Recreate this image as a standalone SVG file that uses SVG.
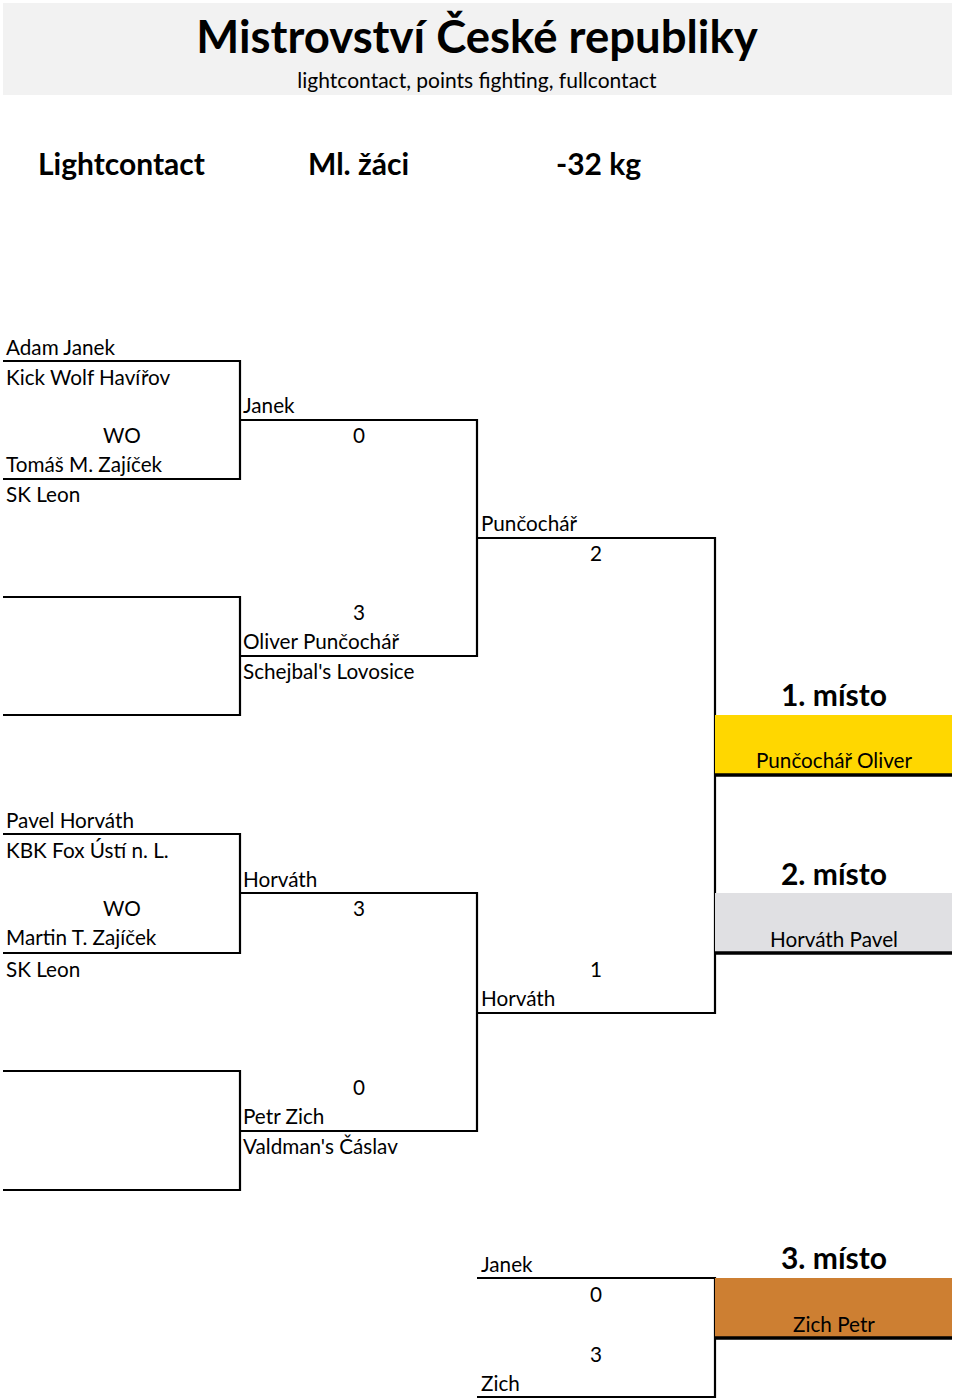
<svg xmlns="http://www.w3.org/2000/svg" width="960" height="1400" viewBox="0 0 960 1400">
<style>
text{font-family:Lato,"Liberation Sans",sans-serif;font-size:20.7px;fill:#000}
.c{text-anchor:middle}
.b{font-weight:bold}
.h{font-size:30px;font-weight:bold}
.p{font-size:30px;font-weight:bold;text-anchor:middle}
.ln{stroke:#000;stroke-width:2.2;fill:none}
.tk{stroke:#000;stroke-width:3.5;fill:none}
</style>
<rect x="3" y="3" width="949" height="92" fill="#f2f2f2"/>
<text x="477" y="53" class="c b" style="font-size:45.5px">Mistrovství České republiky</text>
<text x="477" y="88" class="c" style="font-size:21px">lightcontact, points fighting, fullcontact</text>
<text x="38" y="175" class="h">Lightcontact</text>
<text x="308" y="175" class="h">Ml. žáci</text>
<text x="556" y="175" class="h">-32 kg</text>

<g id="connectors">
<path class="ln" d="M3 361H240V479H3"/>
<path class="ln" d="M240 420H477V656H240"/>
<path class="ln" d="M3 597H240V715H3"/>
<path class="ln" d="M477 538H715V1013H477"/>
<path class="ln" d="M3 834H240V953H3"/>
<path class="ln" d="M240 893H477V1131H240"/>
<path class="ln" d="M3 1071H240V1190H3"/>
<path class="ln" d="M477 1278H715V1397H477"/>
</g>

<g id="match1">
<text x="6" y="355">Adam Janek</text>
<text x="6" y="385">Kick Wolf Havířov</text>
<text x="122" y="443" class="c">WO</text>
<text x="6" y="472">Tomáš M. Zajíček</text>
<text x="6" y="502">SK Leon</text>
</g>
<g id="match2">
<text x="243" y="413">Janek</text>
<text x="359" y="443" class="c">0</text>
<text x="359" y="620" class="c">3</text>
<text x="243" y="649">Oliver Punčochář</text>
<text x="243" y="679">Schejbal's Lovosice</text>
</g>
<g id="semi1">
<text x="481" y="531">Punčochář</text>
<text x="596" y="561" class="c">2</text>
</g>
<g id="place1">
<text x="834" y="706" class="p">1. místo</text>
<rect x="715" y="715" width="237" height="60" fill="#ffd700"/>
<path class="tk" d="M715 775H952"/>
<text x="834" y="768" class="c">Punčochář Oliver</text>
</g>
<g id="match3">
<text x="6" y="828">Pavel Horváth</text>
<text x="6" y="858">KBK Fox Ústí n. L.</text>
<text x="122" y="916" class="c">WO</text>
<text x="6" y="945">Martin T. Zajíček</text>
<text x="6" y="977">SK Leon</text>
</g>
<g id="match4">
<text x="243" y="887">Horváth</text>
<text x="359" y="916" class="c">3</text>
<text x="359" y="1095" class="c">0</text>
<text x="243" y="1124">Petr Zich</text>
<text x="243" y="1154">Valdman's Čáslav</text>
</g>
<g id="semi2">
<text x="596" y="977" class="c">1</text>
<text x="481" y="1006">Horváth</text>
</g>
<g id="place2">
<text x="834" y="885" class="p">2. místo</text>
<rect x="715" y="893" width="237" height="60" fill="#e0e0e3"/>
<path class="tk" d="M715 953H952"/>
<text x="834" y="947" class="c">Horváth Pavel</text>
</g>
<g id="bronze">
<text x="481" y="1272">Janek</text>
<text x="596" y="1302" class="c">0</text>
<text x="596" y="1362" class="c">3</text>
<text x="481" y="1391">Zich</text>
</g>
<g id="place3">
<text x="834" y="1269" class="p">3. místo</text>
<rect x="715" y="1278" width="237" height="60" fill="#cd7f32"/>
<path class="tk" d="M715 1338H952"/>
<text x="834" y="1332" class="c">Zich Petr</text>
</g>
</svg>
